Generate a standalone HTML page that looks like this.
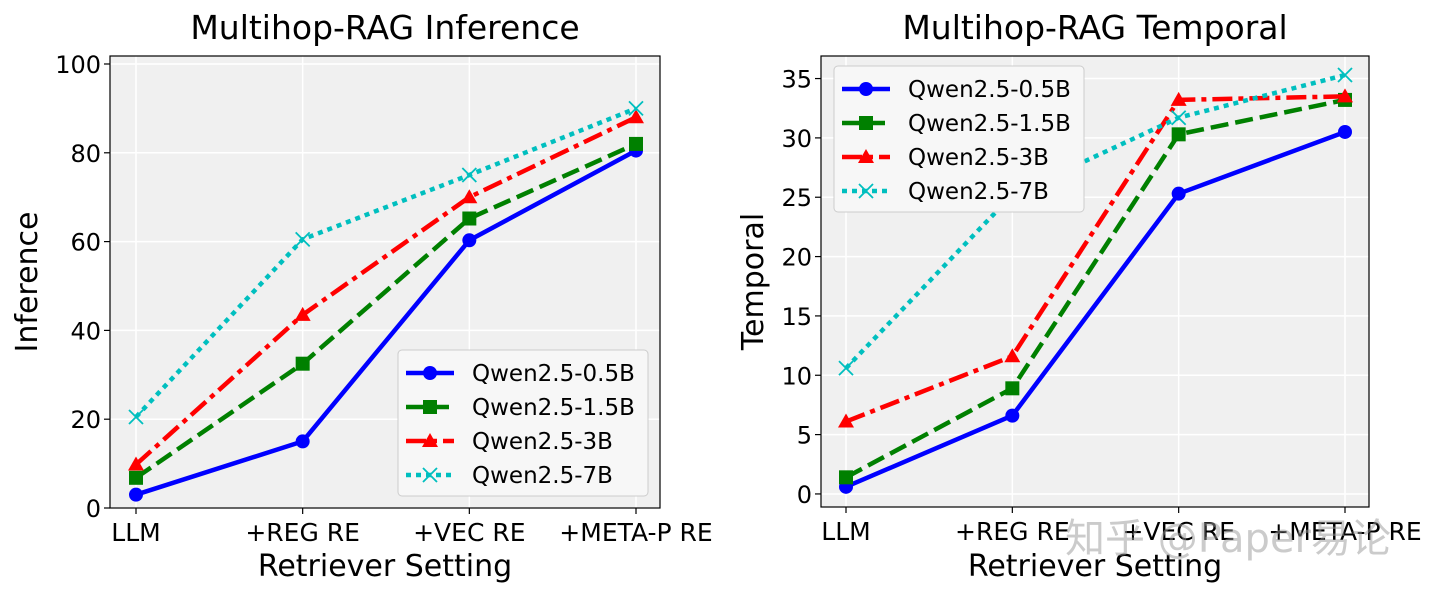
<!DOCTYPE html>
<html><head><meta charset="utf-8"><style>
body{margin:0;background:#fff;}
svg text{font-family:"DejaVu Sans","Liberation Sans","Noto Sans CJK SC",sans-serif;fill:#000;}
</style></head><body>
<svg id="c" width="1440" height="594" viewBox="0 0 1440 594" xmlns="http://www.w3.org/2000/svg"></svg>
<script>
const categories=["LLM","+REG RE","+VEC RE","+META-P RE"];
const seriesNames=["Qwen2.5-0.5B","Qwen2.5-1.5B","Qwen2.5-3B","Qwen2.5-7B"];
const inferenceValues=[[3,15,60.3,80.5],[6.8,32.5,65.2,82],[9.8,43.5,70,88],[20.5,60.5,75,90]];
const temporalValues=[[0.6,6.6,25.3,30.5],[1.4,8.9,30.3,33.2],[6.1,11.6,33.2,33.5],[10.6,25.2,31.7,35.3]];
const inferenceTicks=[0,20,40,60,80,100];
const temporalTicks=[0,5,10,15,20,25,30,35];

const NS="http://www.w3.org/2000/svg";
const svg=document.getElementById('c');
function mk(tag,attrs,parent){const e=document.createElementNS(NS,tag);for(const k in attrs)e.setAttribute(k,attrs[k]);(parent||svg).appendChild(e);return e;}
const styles=[
 {color:"#0000ff",dash:"",marker:"circle"},
 {color:"#008000",dash:"18 7",marker:"square"},
 {color:"#ff0000",dash:"20 6 5 6",marker:"triangle"},
 {color:"#00bfbf",dash:"5 5",marker:"x"}];
function marker(g,type,x,y,color){
 let m;
 if(type==="circle")m=mk('circle',{cx:x,cy:y,r:7,fill:color},g);
 else if(type==="square")m=mk('rect',{x:x-7,y:y-7,width:14,height:14,fill:color},g);
 else if(type==="triangle")m=mk('polygon',{points:`${x},${y-8} ${x-8},${y+6} ${x+8},${y+6}`,fill:color},g);
 else m=mk('path',{d:`M${x-7} ${y-7}L${x+7} ${y+7}M${x-7} ${y+7}L${x+7} ${y-7}`,stroke:color,'stroke-width':1.8,fill:'none'},g);
 
 
}
function plot(o){
 const g=mk('g',{});
 
 
 const {L,R,T,B,x0,x3,ymin,ymax}=o;
 const sx=i=>x0+(x3-x0)*i/(categories.length-1);
 const sy=v=>B-(v-ymin)/(ymax-ymin)*(B-T);
 mk('rect',{x:L,y:T,width:R-L,height:B-T,fill:'#f0f0f0'},g);
 o.ticks.forEach(t=>{
  mk('line',{x1:L,x2:R,y1:sy(t),y2:sy(t),stroke:'#fff','stroke-width':1.5},g);
  mk('line',{x1:L-6,x2:L,y1:sy(t),y2:sy(t),stroke:'#000','stroke-width':1.2},g);
  const tx=mk('text',{x:L-9,y:sy(t)+9,'text-anchor':'end','font-size':24},g);tx.textContent=t;
  
  
 });
 categories.forEach((c,i)=>{
  mk('line',{x1:sx(i),x2:sx(i),y1:T,y2:B,stroke:'#fff','stroke-width':1.5},g);
  mk('line',{x1:sx(i),x2:sx(i),y1:B,y2:B+6,stroke:'#000','stroke-width':1.2},g);
  const tx=mk('text',{x:sx(i),y:B+33,'text-anchor':'middle','font-size':25},g);tx.textContent=c;
  
  
 });
 o.values.forEach((vals,s)=>{
  const st=styles[s];
  const pts=vals.map((v,i)=>sx(i)+','+sy(v)).join(' ');
  const pl=mk('polyline',{points:pts,fill:'none',stroke:st.color,'stroke-width':4.5,'stroke-dasharray':st.dash,'stroke-linejoin':'round'},g);
  
  
  vals.forEach((v,i)=>marker(g,st.marker,sx(i),sy(v),st.color));
 });
 mk('rect',{x:L,y:T,width:R-L,height:B-T,fill:'none',stroke:'#000','stroke-width':1.2},g);
 const ti=mk('text',{x:(L+R)/2,y:T-17,'text-anchor':'middle','font-size':33},g);ti.textContent=o.title;
 
 
 const xl=mk('text',{x:(L+R)/2,y:576,'text-anchor':'middle','font-size':30},g);xl.textContent="Retriever Setting";
 
 
 const yl=mk('text',{x:0,y:0,'text-anchor':'middle','font-size':30,transform:`translate(${o.ylx},${(T+B)/2}) rotate(-90)`},g);yl.textContent=o.ylabel;
 
 
 // legend
 const lg=mk('g',{},g);
 
 
 mk('rect',{x:o.lx,y:o.ly,width:250,height:146,rx:4,fill:'#f7f7f7',stroke:'#ccc','stroke-width':1},lg);
 seriesNames.forEach((n,s)=>{
  const st=styles[s];const y=o.ly+23+s*34;
  const e=mk('g',{},lg);
  
  
  mk('line',{x1:o.lx+8,x2:o.lx+56,y1:y,y2:y,stroke:st.color,'stroke-width':4.5,'stroke-dasharray':st.dash},e);
  marker(e,st.marker,o.lx+32,y,st.color);
  const t=mk('text',{x:o.lx+74,y:y+8,'font-size':23},e);t.textContent=n;
 });
}
plot({name:'inference-plot',L:110,R:660,T:56,B:508,x0:136,x3:636,ymin:0,ymax:101.8,ticks:inferenceTicks,values:inferenceValues,title:"Multihop-RAG Inference",ylabel:"Inference",ylx:37,lx:398,ly:350});
plot({name:'temporal-plot',L:821,R:1369,T:56,B:507,x0:846,x3:1345,ymin:-1.1,ymax:36.9,ticks:temporalTicks,values:temporalValues,title:"Multihop-RAG Temporal",ylabel:"Temporal",ylx:763,lx:834,ly:66});
const wm=mk('text',{x:1065,y:552,'font-size':40});


wm.setAttribute('style','fill:#999;opacity:0.5');
wm.textContent="知乎 @Paper易论";
</script>
</body></html>
